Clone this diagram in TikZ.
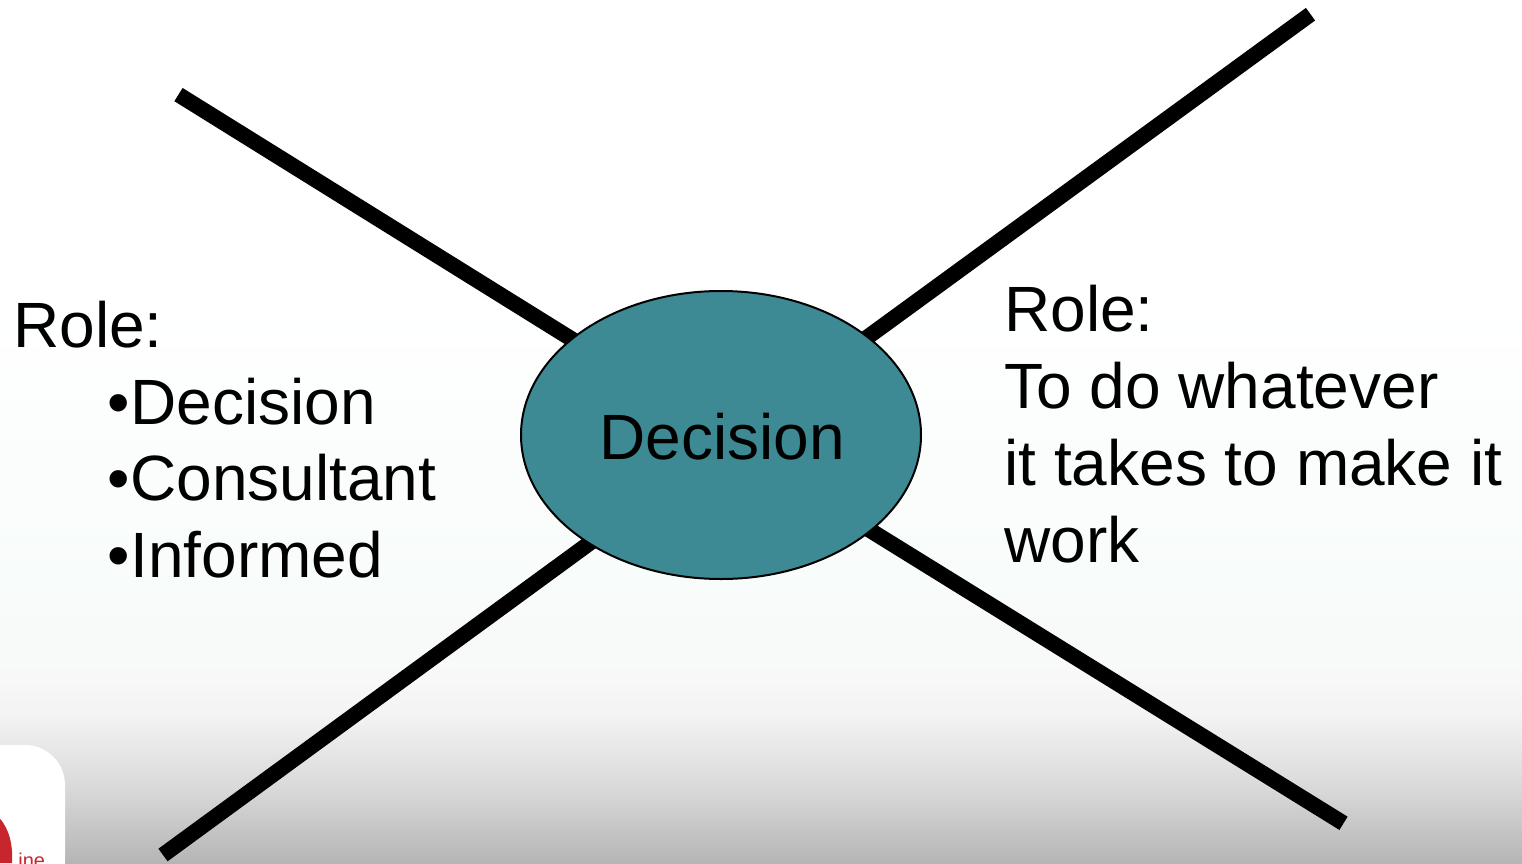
\documentclass[tikz,border=0pt]{standalone}
\usepackage{fontspec}
\setmainfont{Liberation Sans}
\usetikzlibrary{backgrounds,shapes.geometric}
\definecolor{teal1}{HTML}{3E8A94}
\definecolor{logored}{HTML}{C8262E}
\definecolor{fadea}{HTML}{F8FCFB}
\definecolor{fadeb}{HTML}{F8F8F8}
\definecolor{fadec}{HTML}{F3F3F3}
\definecolor{faded}{HTML}{D8D8D8}
\definecolor{fadee}{HTML}{B5B5B5}
\tikzset{
  spoke/.style={line width=7.8pt,black},
  lbl/.style={anchor=base west,inner sep=0pt,font=\fontsize{32pt}{38.5pt}\selectfont,text=black},
  hub/.style={ellipse,draw=black,line width=1pt,fill=teal1,minimum width=200pt,minimum height=144pt,inner sep=0pt}
}
\begin{document}
\begin{tikzpicture}[x=0.5pt,y=-0.5pt]
\useasboundingbox (0,0) rectangle (1522,863);
\node[hub] (dec) at (721,435) {};
\node[lbl] (dectext) at (599,459) {Decision};
\coordinate (tl) at (178.5,94.6);
\coordinate (tr) at (1310.5,14.2);
\coordinate (bl) at (163,855);
\coordinate (br) at (1343.5,823.3);
\coordinate (tlin) at (721,432);
\coordinate (trin) at (721,444);
\coordinate (blin) at (721,447);
\coordinate (brin) at (721,438);
\node[lbl] (lrole) at (13,347) {Role:};
\node[lbl] (l1) at (107.5,424) {•Decision};
\node[lbl] (l2) at (107.5,500) {•Consultant};
\node[lbl] (l3) at (107.5,577) {•Informed};
\node[lbl] (r1) at (1004,331) {Role:};
\node[lbl] (r2) at (1004,408) {To do whatever};
\node[lbl] (r3) at (1004,485) {it takes to make it};
\node[lbl] (r4) at (1004,562) {work};
\begin{scope}[on background layer]
  \fill[white] (0,0) rectangle (1522,863);
  \shade[top color=white,bottom color=fadea] (0,300) rectangle (1522,581);
  \shade[top color=fadea,bottom color=fadeb] (0,580) rectangle (1522,681);
  \shade[top color=fadeb,bottom color=fadec] (0,680) rectangle (1522,716);
  \shade[top color=fadec,bottom color=faded] (0,715) rectangle (1522,791);
  \shade[top color=faded,bottom color=fadee] (0,790) rectangle (1522,863);
  \begin{scope}
    \clip (0,0) rectangle (1522,863);
    \fill[white] (-40,745) [rounded corners=20pt] rectangle (65,900);
    \fill[logored] (-60,805) .. controls (0,795) and (14,830) .. (12,863) -- (-60,863) -- cycle;
    \node[anchor=base west,inner sep=0pt,text=logored,font=\fontsize{10pt}{10pt}\selectfont] (logotext) at (18,867) {ine};
  \end{scope}
  \draw[spoke] (tl) -- (tlin);
  \draw[spoke] (tr) -- (trin);
  \draw[spoke] (bl) -- (blin);
  \draw[spoke] (br) -- (brin);
\end{scope}
\end{tikzpicture}
\end{document}
